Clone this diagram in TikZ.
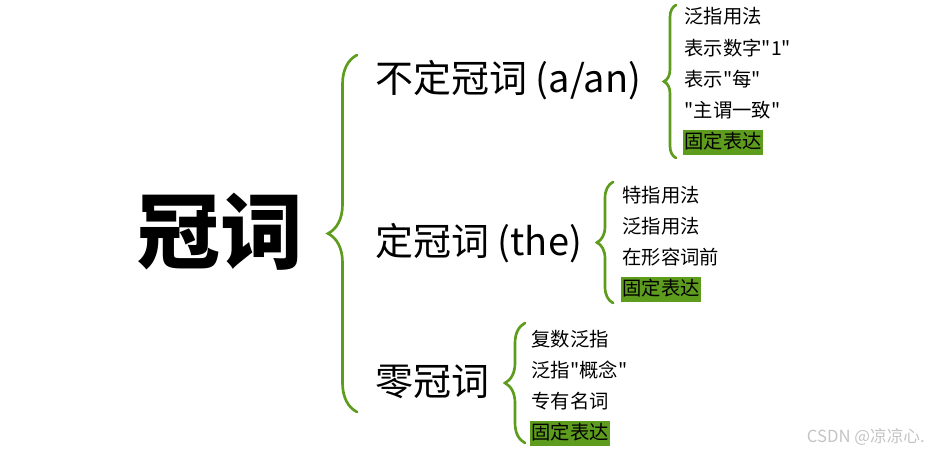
\documentclass[tikz,border=0pt]{standalone}
\usepackage{fontspec}
\newfontfamily\cjkfont{Noto Sans CJK SC}
\usepackage{tikz}
\usetikzlibrary{positioning,decorations.pathreplacing}
\definecolor{articlegreen}{HTML}{5E9C1E}
\definecolor{marklightgray}{HTML}{C4C4C4}

\begin{document}
\begin{tikzpicture}[
        x=0.75pt, y=-0.75pt,
        node distance=4pt,
        title/.style={
            font=\cjkfont\bfseries\fontsize{62}{62}\selectfont,
            inner sep=0pt
        },
        kind/.style={
            font=\cjkfont\fontsize{28.5}{28.5}\selectfont,
            anchor=west,
            inner sep=0pt
        },
        item/.style={
            font=\cjkfont\fontsize{14.5}{14.5}\selectfont,
            inner xsep=1pt,
            inner ysep=2.5pt,
            text height=11.5pt,
            text depth=2.5pt
        },
        fixed/.style={item, fill=articlegreen},
        bracket/.style={
            decorate,
            decoration={brace, amplitude=#1},
            line width=2pt,
            articlegreen,
            line cap=round
        }
    ]
        \useasboundingbox (0,0) rectangle (930,453);

        \node[title] (guanci) at (220,232) {冠词};
        \node[kind] (indef) at (375,80) {不定冠词 (a/an)};
        \node[kind] (def) at (375,243) {定冠词 (the)};
        \node[kind] (zero) at (375,382) {零冠词};

        % big brace
        \coordinate (bigtop) at (357,55);
        \coordinate (bigbot) at (357,412);
        \draw[bracket=21.75pt] (bigbot) -- (bigtop);

        % a/an
        \node[item, anchor=west] (a1) at (683,18) {泛指用法};
        \node[item, below=of a1.south west, anchor=north west] (a2) {表示数字"1"};
        \node[item, below=of a2.south west, anchor=north west] (a3) {表示"每"};
        \node[item, below=of a3.south west, anchor=north west] (a4) {"主谓一致"};
        \node[fixed, below=of a4.south west, anchor=north west] (a5) {固定表达};
        \coordinate (atop) at (676,5);
        \coordinate (abot) at (676,158);
        \draw[bracket=9pt] (abot) -- (atop);

        % the
        \node[item, anchor=west] (t1) at (621,196) {特指用法};
        \node[item, below=of t1.south west, anchor=north west] (t2) {泛指用法};
        \node[item, below=of t2.south west, anchor=north west] (t3) {在形容词前};
        \node[fixed, below=of t3.south west, anchor=north west] (t4) {固定表达};
        \coordinate (ttop) at (613,182);
        \coordinate (tbot) at (613,303);
        \draw[bracket=12pt] (tbot) -- (ttop);

        % zero
        \node[item, anchor=west] (z1) at (530,340) {复数泛指};
        \node[item, below=of z1.south west, anchor=north west] (z2) {泛指"概念"};
        \node[item, below=of z2.south west, anchor=north west] (z3) {专有名词};
        \node[fixed, below=of z3.south west, anchor=north west] (z4) {固定表达};
        \coordinate (ztop) at (525,323);
        \coordinate (zbot) at (525,443);
        \draw[bracket=15pt] (zbot) -- (ztop);

        \node[font=\cjkfont\fontsize{12.5}{12.5}\selectfont, text=marklightgray, anchor=east, inner sep=0pt] (mark) at (925,437) {CSDN @凉凉心.};
    \end{tikzpicture}
\end{document}
